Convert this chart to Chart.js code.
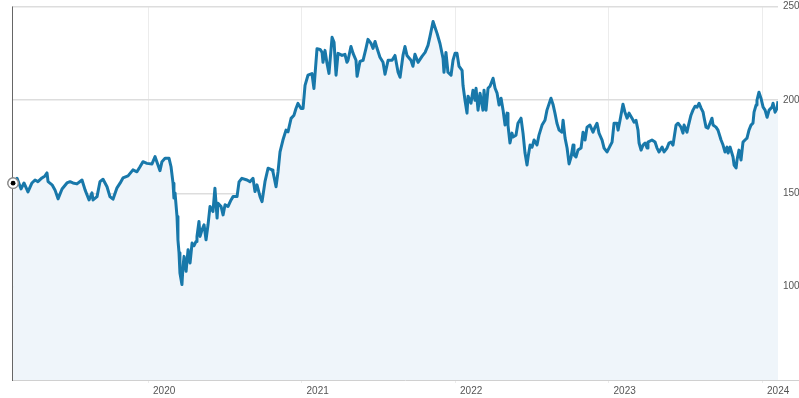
<!DOCTYPE html>
<html>
<head>
<meta charset="utf-8">
<script src="https://cdn.jsdelivr.net/npm/chart.js@4.4.1/dist/chart.umd.min.js"></script>
<style>
  html, body { margin: 0; padding: 0; background: #fff; }
  #wrap { width: 799px; height: 398px; }
</style>
</head>
<body>
<div id="wrap"><canvas id="priceChart" width="799" height="398"></canvas></div>
<script>
// dates as decimal years, weekly-ish closes
const dates = [
  2019.121, 2019.147, 2019.173, 2019.192, 2019.218, 2019.244, 2019.264, 2019.283, 2019.309, 2019.329,
  2019.342, 2019.349, 2019.375, 2019.394, 2019.414, 2019.440, 2019.472, 2019.492, 2019.511, 2019.537,
  2019.570, 2019.590, 2019.603, 2019.616, 2019.635, 2019.642, 2019.668, 2019.687, 2019.707, 2019.733,
  2019.752, 2019.772, 2019.798, 2019.818, 2019.837, 2019.870, 2019.902, 2019.928, 2019.948, 2019.967,
  2019.993, 2020.026, 2020.046, 2020.065, 2020.078, 2020.091, 2020.111, 2020.137, 2020.150, 2020.163,
  2020.169, 2020.176, 2020.189, 2020.195, 2020.202, 2020.208, 2020.221, 2020.228, 2020.235, 2020.248,
  2020.261, 2020.274, 2020.287, 2020.300, 2020.313, 2020.319, 2020.332, 2020.339, 2020.352, 2020.365,
  2020.378, 2020.391, 2020.404, 2020.423, 2020.436, 2020.450, 2020.456, 2020.476, 2020.489, 2020.502,
  2020.521, 2020.541, 2020.554, 2020.580, 2020.593, 2020.612, 2020.645, 2020.664, 2020.684, 2020.697,
  2020.710, 2020.730, 2020.743, 2020.762, 2020.782, 2020.808, 2020.814, 2020.834, 2020.847, 2020.860,
  2020.879, 2020.899, 2020.912, 2020.932, 2020.951, 2020.964, 2020.977, 2020.997, 2021.010, 2021.023,
  2021.042, 2021.068, 2021.081, 2021.101, 2021.121, 2021.134, 2021.140, 2021.153, 2021.166, 2021.179,
  2021.199, 2021.212, 2021.225, 2021.238, 2021.264, 2021.283, 2021.296, 2021.303, 2021.322, 2021.336,
  2021.355, 2021.362, 2021.381, 2021.401, 2021.420, 2021.433, 2021.453, 2021.466, 2021.479, 2021.492,
  2021.511, 2021.531, 2021.544, 2021.564, 2021.590, 2021.609, 2021.629, 2021.642, 2021.661, 2021.674,
  2021.687, 2021.713, 2021.726, 2021.739, 2021.759, 2021.785, 2021.805, 2021.824, 2021.837, 2021.857,
  2021.870, 2021.883, 2021.902, 2021.922, 2021.928, 2021.941, 2021.954, 2021.974, 2021.987, 2022.000,
  2022.013, 2022.026, 2022.046, 2022.052, 2022.065, 2022.078, 2022.085, 2022.104, 2022.117, 2022.130,
  2022.137, 2022.150, 2022.163, 2022.182, 2022.189, 2022.202, 2022.215, 2022.228, 2022.248, 2022.261,
  2022.274, 2022.287, 2022.300, 2022.313, 2022.326, 2022.339, 2022.345, 2022.358, 2022.371, 2022.378,
  2022.397, 2022.410, 2022.430, 2022.443, 2022.456, 2022.469, 2022.476, 2022.489, 2022.502, 2022.515,
  2022.534, 2022.547, 2022.567, 2022.586, 2022.599, 2022.625, 2022.638, 2022.651, 2022.664, 2022.678,
  2022.697, 2022.704, 2022.717, 2022.730, 2022.743, 2022.756, 2022.769, 2022.775, 2022.788, 2022.801,
  2022.821, 2022.834, 2022.847, 2022.860, 2022.879, 2022.899, 2022.912, 2022.925, 2022.938, 2022.958,
  2022.971, 2022.990, 2023.003, 2023.023, 2023.036, 2023.055, 2023.062, 2023.075, 2023.094, 2023.107,
  2023.121, 2023.134, 2023.153, 2023.166, 2023.179, 2023.192, 2023.199, 2023.212, 2023.225, 2023.238,
  2023.251, 2023.257, 2023.283, 2023.303, 2023.316, 2023.329, 2023.349, 2023.362, 2023.381, 2023.394,
  2023.407, 2023.420, 2023.440, 2023.453, 2023.472, 2023.485, 2023.492, 2023.511, 2023.518, 2023.537,
  2023.550, 2023.564, 2023.577, 2023.590, 2023.603, 2023.616, 2023.622, 2023.635, 2023.648, 2023.661,
  2023.674, 2023.681, 2023.700, 2023.713, 2023.733, 2023.746, 2023.759, 2023.772, 2023.779, 2023.792,
  2023.811, 2023.818, 2023.831, 2023.837, 2023.850, 2023.863, 2023.876, 2023.889, 2023.902, 2023.915,
  2023.928, 2023.941, 2023.948, 2023.961, 2023.967, 2023.980, 2023.993, 2024.007, 2024.020, 2024.033,
  2024.046, 2024.065, 2024.072, 2024.085, 2024.098, 2024.104
];

const prices = [
  155.4, 158.0, 152.3, 155.5, 150.7, 155.5, 157.1, 156.2, 158.2, 159.3,
  160.9, 156.2, 154.5, 151.8, 147.0, 152.3, 155.5, 156.2, 155.5, 155.0,
  157.1, 151.8, 149.1, 146.4, 150.2, 146.4, 148.2, 156.2, 157.5, 153.5,
  148.2, 146.8, 152.9, 155.4, 158.2, 159.3, 162.5, 161.5, 164.2, 166.9,
  166.0, 165.7, 169.6, 165.1, 162.1, 166.9, 168.7, 168.7, 164.2, 155.4,
  147.4, 150.2, 137.5, 125.1, 118.2, 107.3, 101.1, 110.8, 116.2, 108.2,
  119.8, 112.7, 123.3, 121.9, 124.2, 126.9, 134.9, 126.9, 130.4, 133.1,
  125.1, 133.1, 142.9, 140.2, 152.7, 136.7, 144.7, 142.9, 138.4, 143.8,
  142.9, 146.4, 148.2, 148.2, 156.1, 158.0, 157.1, 156.2, 158.0, 150.9,
  154.5, 148.2, 145.5, 156.2, 163.4, 162.5, 161.5, 153.5, 161.5, 172.2,
  178.5, 183.8, 182.9, 190.1, 191.8, 195.4, 198.1, 195.4, 195.4, 207.8,
  213.2, 214.1, 206.1, 227.4, 227.0, 225.4, 220.1, 226.5, 219.6, 214.2,
  233.5, 230.8, 213.2, 224.9, 223.8, 224.4, 220.1, 221.2, 228.6, 224.9,
  221.2, 212.6, 220.6, 221.2, 227.6, 232.4, 230.2, 227.6, 231.3, 227.6,
  222.8, 220.1, 213.7, 221.2, 221.2, 223.8, 214.8, 212.1, 223.8, 228.6,
  223.8, 221.2, 218.0, 224.4, 220.1, 223.3, 225.4, 229.2, 234.0, 242.0,
  238.8, 235.6, 230.2, 222.2, 214.8, 225.4, 214.8, 213.2, 221.2, 224.9,
  224.9, 218.0, 215.8, 207.8, 199.8, 192.9, 202.0, 198.2, 205.2, 199.8,
  206.2, 194.5, 203.6, 194.5, 205.2, 194.5, 206.2, 207.3, 211.6, 206.2,
  203.6, 197.2, 200.9, 194.5, 186.5, 192.9, 186.5, 176.9, 182.2, 180.1,
  181.1, 187.5, 190.2, 182.2, 171.5, 165.1, 169.4, 175.8, 174.7, 178.5,
  175.8, 181.1, 186.5, 189.1, 194.5, 200.9, 197.7, 192.9, 187.5, 183.8,
  182.7, 189.1, 179.5, 174.2, 165.7, 169.4, 175.8, 170.5, 169.4, 173.1,
  174.2, 182.7, 178.5, 185.4, 186.5, 182.7, 185.4, 187.5, 182.2, 178.5,
  174.2, 172.1, 174.2, 177.4, 187.5, 187.5, 183.8, 189.1, 197.7, 193.4,
  190.2, 192.9, 190.2, 188.1, 189.1, 183.8, 176.9, 173.1, 175.8, 176.9,
  174.2, 177.4, 178.5, 177.4, 174.2, 172.1, 174.7, 172.1, 174.2, 176.9,
  177.4, 175.8, 186.5, 187.5, 185.4, 182.2, 186.5, 182.7, 185.4, 191.8,
  194.5, 196.6, 196.1, 198.2, 195.6, 193.4, 190.7, 185.4, 184.9, 187.5,
  190.2, 186.5, 185.4, 183.8, 178.5, 175.8, 172.1, 174.7, 171.5, 174.7,
  169.4, 165.1, 163.5, 167.8, 173.1, 167.8, 177.4, 178.5, 179.5, 183.8,
  186.5, 187.5, 193.4, 197.2, 199.8, 204.1, 200.9, 196.1, 194.5, 190.7,
  194.5, 196.1, 198.2, 193.4, 195.6, 199.3
];

const yearTicks = [2020, 2021, 2022, 2023, 2024];
const priceTicks = [100, 150, 200, 250];
const dateRange = [2019.114, 2024.104];
const priceRange = [50, 250];

const points = dates.map((d, i) => ({ x: d, y: prices[i] }));
const startPoint = [{ x: dates[0], y: prices[0] }];

// dark left edge + light bottom rule running out to the labels
const frameLines = {
  id: 'frameLines',
  afterDraw(chart) {
    const { ctx, chartArea: a } = chart;
    ctx.save();
    ctx.lineWidth = 1;
    ctx.strokeStyle = '#d0d0d0';
    ctx.beginPath();
    ctx.moveTo(a.left, a.bottom + 0.5);
    ctx.lineTo(chart.width, a.bottom + 0.5);
    ctx.stroke();
    ctx.strokeStyle = '#666';
    ctx.beginPath();
    ctx.moveTo(a.left + 0.5, a.top);
    ctx.lineTo(a.left + 0.5, a.bottom + 1);
    ctx.stroke();
    ctx.restore();
  }
};

// redraw the start marker on top of the edge line
const startMarker = {
  id: 'startMarker',
  afterDraw(chart) {
    [1, 0].forEach(i => {
      const meta = chart.getDatasetMeta(i);
      meta.data.forEach(el => el.draw(chart.ctx));
    });
  }
};

const ctx = document.getElementById('priceChart').getContext('2d');
new Chart(ctx, {
  type: 'line',
  data: {
    datasets: [
      {
        data: startPoint,
        showLine: false,
        pointRadius: 2.4,
        pointBackgroundColor: '#000',
        pointBorderWidth: 0,
        clip: false
      },
      {
        data: startPoint,
        showLine: false,
        pointRadius: 5.2,
        pointBackgroundColor: '#fff',
        pointBorderColor: '#8a8a8a',
        pointBorderWidth: 1.3,
        clip: false
      },
      {
        data: points,
        borderColor: '#1878aa',
        borderWidth: 3,
        borderJoinStyle: 'round',
        backgroundColor: '#eff5fa',
        fill: 'start',
        pointRadius: 0,
        tension: 0
      }
    ]
  },
  options: {
    responsive: false,
    animation: false,
    layout: { padding: { left: 12, top: 6, right: 0, bottom: 0 } },
    plugins: {
      legend: { display: false },
      tooltip: { enabled: false }
    },
    scales: {
      x: {
        type: 'linear',
        min: dateRange[0],
        max: dateRange[1],
        afterBuildTicks: s => { s.ticks = yearTicks.map(v => ({ value: v })); },
        afterFit: s => { s.height = 18; s.paddingLeft = 0; s.paddingRight = 0; },
        border: { display: false },
        grid: { color: '#ececec', lineWidth: 1, tickLength: 3 },
        ticks: {
          align: 'start',
          labelOffset: 5,
          padding: 2,
          maxRotation: 0,
          color: '#555',
          font: { family: "'Liberation Sans', Arial, sans-serif", size: 10 },
          callback: v => String(v)
        }
      },
      y: {
        position: 'right',
        min: priceRange[0],
        max: priceRange[1],
        afterBuildTicks: s => { s.ticks = [priceRange[0]].concat(priceTicks).map(v => ({ value: v })); },
        afterFit: s => { s.width = 21; s.paddingTop = 0; s.paddingBottom = 0; },
        border: { display: false },
        grid: {
          color: c => (c.tick && c.tick.value === priceRange[0]) ? 'rgba(0,0,0,0)' : '#dddddd',
          lineWidth: 1.5,
          drawTicks: false
        },
        ticks: {
          padding: 5,
          color: '#555',
          font: { family: "'Liberation Sans', Arial, sans-serif", size: 10 },
          callback: v => (v === priceRange[0] ? '' : String(v))
        }
      }
    }
  },
  plugins: [frameLines, startMarker]
});
</script>
</body>
</html>
